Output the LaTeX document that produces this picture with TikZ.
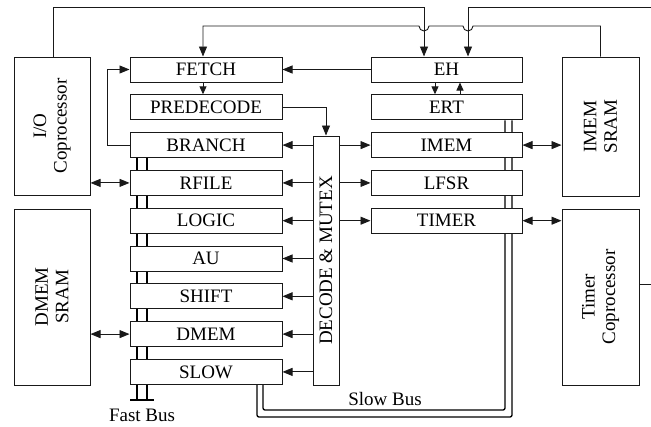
\documentclass[tikz,border=0pt]{standalone}
\usepackage{fontspec}
\setmainfont{Liberation Serif}
\usetikzlibrary{arrows.meta,backgrounds}
\begin{document}
\begin{tikzpicture}[x=1pt,y=-1pt,
  font=\fontsize{19}{20.5}\selectfont,
  unit/.style={draw=black!90, line width=1pt, fill=white, minimum width=152pt, minimum height=25pt, inner sep=0pt},
  big/.style={draw=black!90, line width=1pt, fill=white, inner sep=0pt},
  wire/.style={draw=black!90, line width=0.9pt},
  arr/.style={wire, -{Triangle[length=10pt,width=8pt]}},
  sarr/.style={wire, -{Triangle[length=8pt,width=7pt]}},
  darr/.style={wire, {Triangle[length=10pt,width=8pt]}-{Triangle[length=10pt,width=8pt]}},
  bus/.style={draw=black, line width=1.3pt, rounded corners=2pt}]
\useasboundingbox (0,0) rectangle (651,426);

% left column
\node[unit] (fetch) at (206,69.5) {FETCH};
\node[unit] (pre)   at (206,107.3) {PREDECODE};
\node[unit] (branch) at (206,145.1) {BRANCH};
\node[unit] (rfile) at (206,182.9) {RFILE};
\node[unit] (logic) at (206,220.7) {LOGIC};
\node[unit] (au)    at (206,258.5) {AU};
\node[unit] (shift) at (206,296.3) {SHIFT};
\node[unit] (dmem)  at (206,334.1) {DMEM};
\node[unit] (slow)  at (206,371.9) {SLOW};

% right column
\node[unit, minimum width=151pt] (eh)    at (446.5,69.5) {EH};
\node[unit, minimum width=151pt] (ert)   at (446.5,107.3) {ERT};
\node[unit, minimum width=151pt] (imem)  at (446.5,145.1) {IMEM};
\node[unit, minimum width=151pt] (lfsr)  at (446.5,182.9) {LFSR};
\node[unit, minimum width=151pt] (timer) at (446.5,220.7) {TIMER};

% decode
\node[big, minimum width=26pt, minimum height=249pt] (dec) at (326,260.5) {};
\node[rotate=90] (dectxt) at (dec.center) {DECODE \& MUTEX};

% big side blocks
\node[big, minimum width=76pt, minimum height=138pt] (io) at (52,126) {};
\node[rotate=90, align=center] (iotxt) at (io.center) {I/O\\Coprocessor};
\node[big, minimum width=76pt, minimum height=176pt] (dsram) at (52,297) {};
\node[rotate=90, align=center] (dsramtxt) at (dsram.center) {DMEM\\SRAM};
\node[big, minimum width=77pt, minimum height=139pt] (isram) at (600.5,126.5) {};
\node[rotate=90, align=center] (isramtxt) at (isram.center) {IMEM\\SRAM};
\node[big, minimum width=77pt, minimum height=176pt] (tco) at (600.5,297) {};
\node[rotate=90, align=center] (tcotxt) at (tco.center) {Timer\\Coprocessor};

% labels
\node (slowlbl) at (385,399) {Slow Bus};
\node (fastlbl) at (142,415) {Fast Bus};

% coordinates
\coordinate (topio) at (53,7);
\coordinate (topr) at (651,7);
\coordinate (tcor) at (651,284);
\coordinate (hopA) at (424,26);
\coordinate (hopB) at (468,26);
\coordinate (fbbar) at (142,400);
\coordinate (sbi) at (505,410);
\coordinate (sbo) at (512,417);

% buses on background
\begin{scope}[on background layer]
  \draw[bus] ([xshift=-69pt]branch.south) -- ([xshift=-69pt]branch.south |- fbbar);
  \draw[bus] ([xshift=-59pt]branch.south) -- ([xshift=-59pt]branch.south |- fbbar);
  \draw[bus] ([xshift=-12pt]fbbar) -- ([xshift=12pt]fbbar);
  \draw[bus] ([xshift=57pt]slow.south) |- (sbi) -- (sbi |- ert.south);
  \draw[bus] ([xshift=51pt]slow.south) |- (sbo) -- (sbo |- ert.south);
\end{scope}

% top wires
\draw[arr] ([xshift=1pt]io.north) |- (topio) -| (hopA |- eh.north);
\draw[wire] (tco.east |- tcor) -- (tcor);
\draw[arr] (topr) -| (hopB |- eh.north);
\draw[arr] (isram.north) |- ([xshift=5pt]hopB)
   arc[start angle=0, end angle=-180, radius=5pt] -- ([xshift=5pt]hopA)
   arc[start angle=0, end angle=-180, radius=5pt] -- ([xshift=-3pt]fetch.north |- hopA) -- ([xshift=-3pt]fetch.north);

% internal wires
\draw[sarr] ([xshift=-3pt]fetch.south) -- ([xshift=-3pt]pre.north);
\draw[arr] (eh.west) -- (fetch.east);
\draw[arr] (pre.east) -| (dec.north);
\draw[arr] (branch.west) -- ++(-22,0) |- (fetch.west);
\draw[sarr] ([xshift=-11.5pt]eh.south) -- ([xshift=-11.5pt]ert.north);
\draw[sarr] ([xshift=13.5pt]ert.north) -- ([xshift=13.5pt]eh.south);

\foreach \n in {branch,rfile,logic,au,shift,dmem,slow}
  \draw[arr] (dec.west |- \n.east) -- (\n.east);
\foreach \n in {imem,lfsr,timer}
  \draw[arr] (dec.east |- \n.west) -- (\n.west);

% bidirectional
\draw[darr] (io.east |- rfile.west) -- (rfile.west);
\draw[darr] (dsram.east |- dmem.west) -- (dmem.west);
\draw[darr] (imem.east) -- (isram.west |- imem.east);
\draw[darr] (timer.east) -- (tco.west |- timer.east);
\end{tikzpicture}
\end{document}
